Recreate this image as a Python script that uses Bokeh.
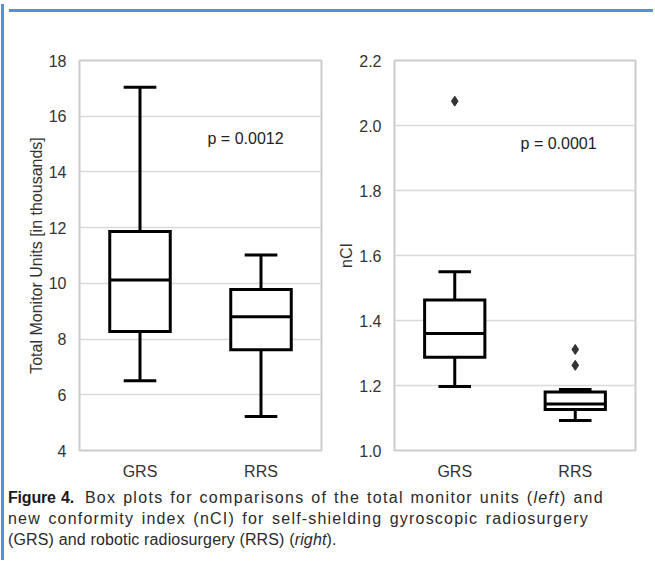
from bokeh.plotting import figure
from bokeh.models import Range1d, FactorRange, ColumnDataSource, FixedTicker, PrintfTickFormatter, Div, Label, Spacer
from bokeh.transform import dodge
from bokeh.layouts import row, column
from bokeh.embed import file_html
from bokeh.resources import INLINE

# ---------------- data ----------------
categories = ["GRS", "RRS"]

# Total monitor units [in thousands]
mu_lower = [6.5, 5.22]
mu_q1 = [8.27, 7.62]
mu_median = [10.12, 8.8]
mu_q3 = [11.86, 9.78]
mu_upper = [17.04, 11.02]
mu_ticks = [4, 6, 8, 10, 12, 14, 16, 18]
mu_p_text = "p = 0.0012"

# new conformity index
nci_lower = [1.197, 1.092]
nci_q1 = [1.287, 1.126]
nci_median = [1.36, 1.143]
nci_q3 = [1.463, 1.18]
nci_upper = [1.55, 1.188]
nci_out_cat = ["GRS", "RRS", "RRS"]
nci_out_val = [2.075, 1.311, 1.262]
nci_ticks = [1.0, 1.2, 1.4, 1.6, 1.8, 2.0, 2.2]
nci_p_text = "p = 0.0001"

caption_fig = "Figure 4."
caption_line1 = "Box plots for comparisons of the total monitor units (<i>left</i>) and"
caption_line2 = "new conformity index (nCI) for self-shielding gyroscopic radiosurgery"
caption_line3 = "(GRS) and robotic radiosurgery (RRS) (<i>right</i>)."

FONT = "Liberation Sans"
BLUE = "#5592d4"
TOP, FRAME_H, BOTTOM = 43, 391, 31
H = TOP + FRAME_H + BOTTOM
CAP_H = 68


def make_fig(mbl, frame_w, mbr, yr, ticks, fmt, ylabel, label_standoff):
    p = figure(x_range=FactorRange(factors=categories, range_padding=0),
               y_range=Range1d(*yr),
               width=mbl + frame_w + mbr, height=H,
               min_border_left=mbl, min_border_right=mbr,
               min_border_top=TOP, min_border_bottom=BOTTOM,
               output_backend="svg", toolbar_location=None)
    p.xgrid.grid_line_color = None
    p.ygrid.grid_line_color = "#d9d9d9"
    p.ygrid.grid_line_width = 1.5
    p.outline_line_color = "#cccccc"
    p.outline_line_width = 2
    p.background_fill_color = "white"
    p.border_fill_color = "white"
    for ax in (p.xaxis, p.yaxis):
        ax.axis_line_color = None
        ax.major_tick_line_color = None
        ax.minor_tick_line_color = None
        ax.major_label_text_font = FONT
        ax.major_label_text_font_size = "16px"
        ax.major_label_text_color = "#333333"
    p.yaxis.ticker = FixedTicker(ticks=ticks)
    p.ygrid.ticker = FixedTicker(ticks=ticks)
    if fmt:
        p.yaxis.formatter = PrintfTickFormatter(format=fmt)
    p.yaxis.major_label_standoff = 7
    p.xaxis.major_label_standoff = 6
    p.yaxis.axis_label = ylabel
    p.yaxis.axis_label_text_font = FONT
    p.yaxis.axis_label_text_font_size = "16px"
    p.yaxis.axis_label_text_font_style = "normal"
    p.yaxis.axis_label_text_color = "#333333"
    p.yaxis.axis_label_standoff = label_standoff
    return p


def draw_boxes(p, lower, q1, med, q3, upper):
    src = ColumnDataSource(dict(cat=categories, lower=lower, q1=q1, med=med, q3=q3, upper=upper))
    kw = dict(source=src, line_color="black", line_width=3)
    p.segment(x0="cat", y0="q3", x1="cat", y1="upper", **kw)
    p.segment(x0="cat", y0="lower", x1="cat", y1="q1", **kw)
    cl = dodge("cat", -0.135, range=p.x_range)
    cr = dodge("cat", 0.135, range=p.x_range)
    p.segment(x0=cl, y0="upper", x1=cr, y1="upper", **kw)
    p.segment(x0=cl, y0="lower", x1=cr, y1="lower", **kw)
    p.vbar(x="cat", width=0.5, bottom="q1", top="q3", fill_color="white",
           line_join="miter", **kw)
    bl = dodge("cat", -0.25, range=p.x_range)
    br = dodge("cat", 0.25, range=p.x_range)
    p.segment(x0=bl, y0="med", x1=br, y1="med", **kw)


p1 = make_fig(75, 242, 10, (4, 18), mu_ticks, None,
              "Total Monitor Units [in thousands]", 1)
draw_boxes(p1, mu_lower, mu_q1, mu_median, mu_q3, mu_upper)
p1.add_layout(Label(x=1.058, y=15.2, text=mu_p_text, text_font=FONT,
                    text_font_size="16px", text_baseline="middle",
                    text_color="#222222"))

p2 = make_fig(63, 241, 13, (1.0, 2.2), nci_ticks, "%.1f", "nCI", 1)
draw_boxes(p2, nci_lower, nci_q1, nci_median, nci_q3, nci_upper)
out_src = ColumnDataSource(dict(cat=nci_out_cat, val=nci_out_val))
p2.scatter(x="cat", y="val", source=out_src, marker="diamond", size=10,
           fill_color="#333333", line_color="#333333")
p2.add_layout(Label(x=1.046, y=1.944, text=nci_p_text, text_font=FONT,
                    text_font_size="16px", text_baseline="middle",
                    text_color="#222222"))

W = p1.width + p2.width
just = "text-align:justify;text-align-last:justify;white-space:nowrap;"
caption = Div(
    text=("<div style=\"font-family:'Liberation Sans';font-size:16px;line-height:21px;"
          "color:#2a2a2a;margin-left:-1px\">"
          f"<div style=\"width:596px;{just}\"><b style=\"color:#1a1a1a;letter-spacing:-0.2px\">{caption_fig}</b>"
          f"&nbsp; <span style=\"letter-spacing:1.3px\">{caption_line1}</span></div>"
          f"<div style=\"width:581px;letter-spacing:1.2px;{just}\">{caption_line2}</div>"
          f"<div style=\"white-space:nowrap;letter-spacing:0.15px\">{caption_line3}</div>"
          "</div>"),
    width=W, height=CAP_H)

hline = Div(text="", width=W, height=3, styles={"background-color": BLUE})

inner = column(hline, row(p1, p2), caption,
               styles={"box-shadow": f"-3px 0 0 0 {BLUE}", "overflow": "visible"})

layout = column(Spacer(height=4), inner,
                styles={"margin-left": "4px", "overflow": "visible"})

open("out.html", "w").write(file_html(layout, INLINE))
